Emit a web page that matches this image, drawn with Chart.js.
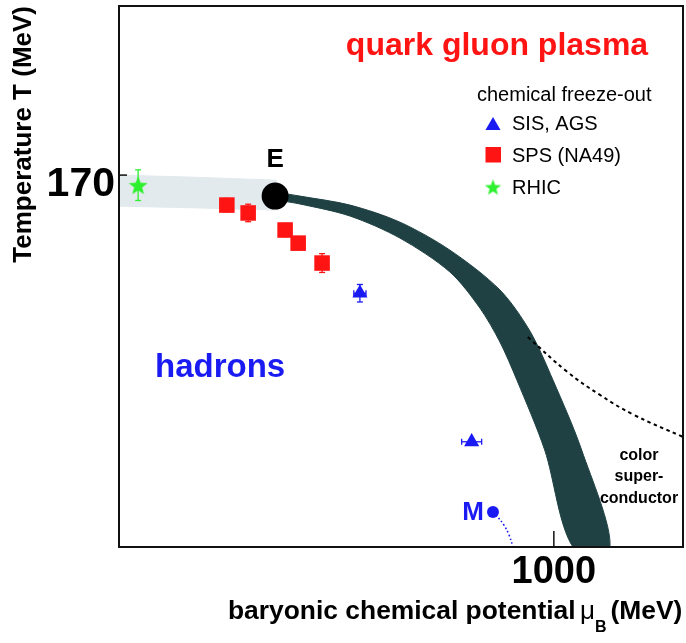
<!DOCTYPE html>
<html>
<head>
<meta charset="utf-8">
<script src="https://cdn.jsdelivr.net/npm/chart.js@4/dist/chart.umd.min.js"></script>
<style>
  html, body { margin: 0; padding: 0; background: #fff; }
  #wrap { width: 686px; height: 643px; }
</style>
</head>
<body>
<div id="wrap"><canvas id="phase" width="686" height="643"></canvas></div>
<script>
// Axis ticks (MeV)
const tTicks = [170];
const muTicks = [1000];

// Crossover region (light band), mu_B / T in MeV
const crossUpperMu = [0, 180, 361];
const crossUpperT = [170.0, 169.0, 167.7];
const crossLowerMu = [361, 180, 0];
const crossLowerT = [154.0, 155.0, 155.8];

// First-order transition line (dark band)
const transUpperMu = [361, 416, 531, 646, 761, 876, 945, 998, 1064, 1129];
const transUpperT = [162.2, 160.4, 156.3, 148.5, 135.7, 117.5, 98.7, 76.3, 44.3, 0];
const transLowerMu = [1044, 979, 915, 876, 830, 761, 646, 531, 416, 361];
const transLowerT = [0, 44.3, 76.3, 93.7, 109.2, 125.7, 141.2, 151.3, 156.8, 158.6];

// Colour-superconductor boundary (dashed)
const cscMu = [940, 1030, 1106, 1182, 1297];
const cscT = [96.0, 80.2, 69.5, 60.6, 50.3];

// Critical end point E and nuclear-matter point M
const endPointMu = [359];
const endPointT = [160.4];
const nuclearMu = [860];
const nuclearT = [16.0];
const nuclearTailMu = [860, 871, 885, 897, 906];
const nuclearTailT = [16.0, 13.7, 10.1, 5.5, 0];

// Chemical freeze-out points with errors
const sisMu = [554, 811];
const sisT = [116.0, 48.1];
const sisMuErr = [14, 23];
const sisTErr = [4, 0];
const spsMu = [248, 297, 382, 412, 467];
const spsT = [156.3, 152.7, 144.9, 138.9, 129.8];
const spsTErr = [3, 4, 3, 3, 4.3];
const rhicMu = [44];
const rhicT = [165.4];
const rhicTErr = [7];

const BLUE = '#1a1af2';
const RED = '#ff1414';
const GREEN = '#2ef02e';
const DARK = '#1f4143';
const LIGHT = '#e3eaee';
const FONT = "'Liberation Sans', Arial, Helvetica, sans-serif";

Chart.defaults.font.family = FONT;

const xy = (xs, ys) => xs.map((v, i) => ({ x: v, y: ys[i] }));

function makeStar(size, color) {
  const c = document.createElement('canvas');
  c.width = size; c.height = size;
  const g = c.getContext('2d');
  const R = size / 2, r = R * 0.42, cx = size / 2, cy = size / 2 + size * 0.05;
  g.fillStyle = color;
  g.beginPath();
  for (let i = 0; i < 10; i++) {
    const ang = -Math.PI / 2 + i * Math.PI / 5;
    const rr = i % 2 ? r : R;
    g.lineTo(cx + rr * Math.cos(ang), cy + rr * Math.sin(ang));
  }
  g.closePath();
  g.fill();
  return c;
}
const starMark = makeStar(20, GREEN);
const starKey = makeStar(17, GREEN);

// Fixed axis box sizes, no extra label padding
const fixBox = size => s => {
  if (s.isHorizontal()) s.height = size; else s.width = size;
  s.paddingTop = 0; s.paddingBottom = 0; s.paddingLeft = 0; s.paddingRight = 0;
};

// Error bars, frame, inward ticks and annotations
const decor = {
  id: 'decor',
  afterDatasetsDraw(chart) {
    const { ctx, chartArea: a } = chart;
    const sx = chart.scales.x, sy = chart.scales.y;
    const seg = (x1, y1, x2, y2) => { ctx.beginPath(); ctx.moveTo(x1, y1); ctx.lineTo(x2, y2); ctx.stroke(); };
    ctx.save();

    const bars = (mu, t, muErr, tErr, color, cap) => {
      ctx.strokeStyle = color;
      ctx.lineWidth = 1.3;
      mu.forEach((m, i) => {
        const px = sx.getPixelForValue(m), py = sy.getPixelForValue(t[i]);
        if (tErr && tErr[i] > 0) {
          const y1 = sy.getPixelForValue(t[i] + tErr[i]);
          const y2 = sy.getPixelForValue(t[i] - tErr[i]);
          seg(px, y1, px, y2);
          seg(px - cap, y1, px + cap, y1);
          seg(px - cap, y2, px + cap, y2);
        }
        if (muErr && muErr[i] > 0) {
          const x1 = sx.getPixelForValue(m - muErr[i]);
          const x2 = sx.getPixelForValue(m + muErr[i]);
          seg(x1, py, x2, py);
          seg(x1, py - cap, x1, py + cap);
          seg(x2, py - cap, x2, py + cap);
        }
      });
    };
    bars(spsMu, spsT, null, spsTErr, RED, 3);
    bars(sisMu, sisT, sisMuErr, sisTErr, BLUE, 3);
    bars(rhicMu, rhicT, null, rhicTErr, GREEN, 3);

    // frame
    ctx.strokeStyle = '#111';
    ctx.lineWidth = 2;
    ctx.strokeRect(a.left, a.top, a.right - a.left, a.bottom - a.top);

    // tick marks pointing into the plot
    ctx.lineWidth = 1.5;
    tTicks.forEach(v => { const p = sy.getPixelForValue(v); seg(a.left, p, a.left + 8, p); });
    muTicks.forEach(v => { const p = sx.getPixelForValue(v); seg(p, a.bottom, p, a.bottom - 16); });

    const txt = (s, x, y, font, color, align) => {
      ctx.font = font;
      ctx.fillStyle = color;
      ctx.textAlign = align || 'left';
      ctx.textBaseline = 'alphabetic';
      ctx.fillText(s, x, y);
    };

    // region labels
    txt('quark gluon plasma', 497, 55, 'bold 32px ' + FONT, RED, 'center');
    txt('hadrons', 155, 377, 'bold 33px ' + FONT, BLUE);
    txt('color', 639, 460, 'bold 16px ' + FONT, '#000', 'center');
    txt('super-', 639, 481, 'bold 16px ' + FONT, '#000', 'center');
    txt('conductor', 639, 503, 'bold 16px ' + FONT, '#000', 'center');

    // point labels
    const ex = sx.getPixelForValue(endPointMu[0]), ey = sy.getPixelForValue(endPointT[0]);
    txt('E', ex, ey - 29, 'bold 26px ' + FONT, '#000', 'center');
    const mx = sx.getPixelForValue(nuclearMu[0]), my = sy.getPixelForValue(nuclearT[0]);
    txt('M', mx - 9, my + 8, 'bold 26px ' + FONT, BLUE, 'right');

    // key
    txt('chemical freeze-out', 477, 101, '20px ' + FONT, '#000');
    ctx.fillStyle = BLUE;
    const tr = 8.7, tcx = 493, tcy = 125.7;
    ctx.beginPath();
    for (let k = 0; k < 3; k++) {
      const ang = k * 2 * Math.PI / 3;
      ctx.lineTo(tcx + Math.sin(ang) * tr, tcy - Math.cos(ang) * tr);
    }
    ctx.closePath();
    ctx.fill();
    txt('SIS, AGS', 512, 130, '20px ' + FONT, '#000');
    ctx.fillStyle = RED;
    ctx.fillRect(485.5, 147, 15.5, 15.5);
    txt('SPS (NA49)', 512, 162, '20px ' + FONT, '#000');
    ctx.drawImage(starKey, 493 - starKey.width / 2, 187 - starKey.height / 2);
    txt('RHIC', 512, 194, '20px ' + FONT, '#000');

    // x-axis title with subscript
    let cx = 228;
    const base = 619;
    const part1 = 'baryonic chemical potential ';
    txt(part1, cx, base, 'bold 26.4px ' + FONT, '#000');
    cx += ctx.measureText(part1).width - 3;
    txt('\u03bc', cx, base, '26px ' + FONT, '#000');
    cx += ctx.measureText('\u03bc').width;
    txt('B', cx, base + 13, 'bold 16px ' + FONT, '#000');
    cx += ctx.measureText('B').width + 4;
    txt('(MeV)', cx, base, 'bold 26.4px ' + FONT, '#000');

    ctx.restore();
  }
};

new Chart(document.getElementById('phase'), {
  type: 'scatter',
  data: {
    datasets: [
      {
        label: 'crossover',
        data: xy(crossUpperMu.concat(crossLowerMu), crossUpperT.concat(crossLowerT)),
        showLine: true, fill: 'shape', backgroundColor: LIGHT, borderColor: LIGHT,
        borderWidth: 1, pointRadius: 0, tension: 0, order: 10
      },
      {
        label: 'first-order line',
        data: xy(transUpperMu.concat(transLowerMu), transUpperT.concat(transLowerT)),
        showLine: true, fill: 'shape', backgroundColor: DARK, borderColor: DARK,
        borderWidth: 1, pointRadius: 0, tension: 0.3, order: 9
      },
      {
        label: 'color superconductor',
        data: xy(cscMu, cscT),
        showLine: true, fill: false, borderColor: '#000', borderWidth: 2,
        borderDash: [3.5, 3.5], pointRadius: 0, tension: 0.4, order: 8
      },
      {
        label: 'nuclear matter tail',
        data: xy(nuclearTailMu, nuclearTailT),
        showLine: true, fill: false, borderColor: BLUE, borderWidth: 1.6,
        borderDash: [1.6, 2.4], pointRadius: 0, tension: 0.4, order: 7
      },
      {
        label: 'E',
        data: xy(endPointMu, endPointT),
        pointRadius: 13.5, pointBackgroundColor: '#000', pointBorderWidth: 0, order: 3
      },
      {
        label: 'M',
        data: xy(nuclearMu, nuclearT),
        pointRadius: 6, pointBackgroundColor: BLUE, pointBorderWidth: 0, order: 3
      },
      {
        label: 'SIS, AGS',
        data: xy(sisMu, sisT),
        pointStyle: 'triangle', pointRadius: 8.7, pointBackgroundColor: BLUE, pointBorderWidth: 0, order: 2
      },
      {
        label: 'SPS (NA49)',
        data: xy(spsMu, spsT),
        pointStyle: 'rect', pointRadius: 11, pointBackgroundColor: RED, pointBorderWidth: 0, order: 2
      },
      {
        label: 'RHIC',
        data: xy(rhicMu, rhicT),
        pointStyle: starMark, pointRadius: 10, order: 2
      }
    ]
  },
  options: {
    responsive: false,
    maintainAspectRatio: false,
    devicePixelRatio: 1,
    animation: false,
    events: [],
    layout: { autoPadding: false, padding: { top: 6, right: 3, left: 0, bottom: 0 } },
    plugins: { legend: { display: false }, tooltip: { enabled: false } },
    scales: {
      x: {
        type: 'linear', min: 0, max: 1297,
        grid: { display: false, drawTicks: false },
        border: { display: false },
        afterBuildTicks: s => { s.ticks = muTicks.map(v => ({ value: v })); },
        afterFit: fixBox(96),
        ticks: { color: '#000', padding: 3, font: { size: 38, weight: 'bold' }, callback: v => String(v) }
      },
      y: {
        type: 'linear', min: 0, max: 247.3,
        grid: { display: false, drawTicks: false },
        border: { display: false },
        afterBuildTicks: s => { s.ticks = tTicks.map(v => ({ value: v })); },
        afterFit: fixBox(119),
        ticks: { color: '#000', padding: 4, labelOffset: 10, font: { size: 41, weight: 'bold' }, callback: v => String(v) },
        title: {
          display: true, text: 'Temperature T (MeV)', align: 'end', color: '#000',
          padding: { top: 8, bottom: 0 }, font: { size: 26, weight: 'bold' }
        }
      }
    }
  },
  plugins: [decor]
});
</script>
</body>
</html>
